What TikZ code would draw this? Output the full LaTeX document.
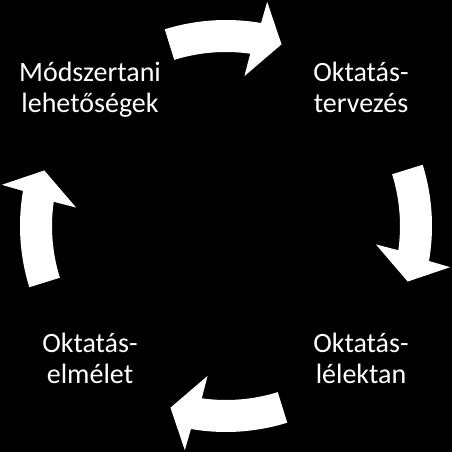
\documentclass[tikz,border=0pt]{standalone}
\usepackage{fontspec}
\setmainfont{Carlito}
\begin{document}
\begin{tikzpicture}[x=1pt,y=1pt,
  lbl/.style={text=white,align=center,inner sep=0pt,anchor=base,font=\fontsize{28}{31}\selectfont},
  cyclearrow/.style={fill=white,draw=none}]
\fill[black] (0,0) rectangle (452,452);
\useasboundingbox (0,0) rectangle (452,452);
\coordinate (c) at (226,226);
% arrows along a circle centred at c, clockwise
\foreach \t/\n in {90/top,0/right,-90/bottom,-180/left}{
  \fill[cyclearrow] ([shift={(\t+17.3:206)}]c) coordinate (\n-tail)
    arc[start angle=\t+17.3,end angle=\t-9.8,radius=206]
    -- ([shift={(\t-10.4:228)}]c)
    -- ([shift={(\t-17:190)}]c) coordinate (\n-tip)
    -- ([shift={(\t-7:151)}]c)
    -- ([shift={(\t-8:174)}]c)
    arc[start angle=\t-8,end angle=\t+17.3,radius=174]
    -- cycle;
}
\node[lbl] (mod) at (90,339) {Módszertani\\lehetőségek};
\node[lbl] (terv) at (361,339) {Oktatás-\\tervezés};
\node[lbl] (lel) at (361,68) {Oktatás-\\lélektan};
\node[lbl] (elm) at (90,68) {Oktatás-\\elmélet};
\end{tikzpicture}
\end{document}
